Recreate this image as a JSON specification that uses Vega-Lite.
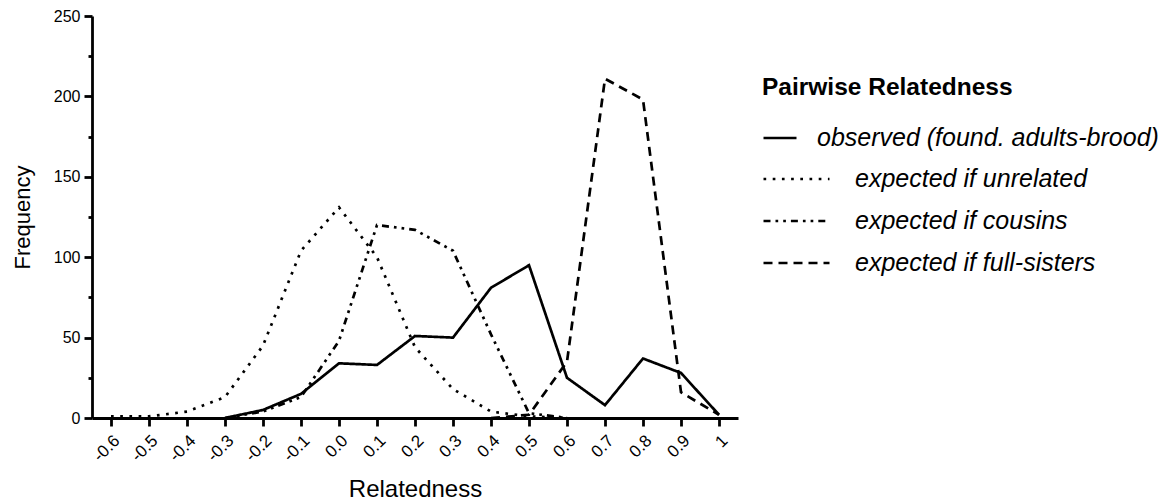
{
  "$schema": "https://vega.github.io/schema/vega-lite/v6.json",
  "width": 646,
  "height": 402,
  "autosize": {"type": "none"},
  "padding": {"left": 92, "top": 16, "right": 433, "bottom": 86},
  "background": "white",
  "config": {
    "view": {"stroke": null},
    "font": "Liberation Sans",
    "axis": {
      "domainColor": "black", "domainWidth": 2.8, "tickColor": "black", "tickWidth": 2.8,
      "labelColor": "black", "titleColor": "black", "grid": false,
      "labelFont": "Liberation Sans", "titleFont": "Liberation Sans", "titleFontWeight": "normal"
    }
  },
  "data": {
    "values": [
      {"series": "observed (found. adults-brood)", "group": "obs", "r": -0.3, "freq": 0},
      {"series": "observed (found. adults-brood)", "group": "obs", "r": -0.2, "freq": 5},
      {"series": "observed (found. adults-brood)", "group": "obs", "r": -0.1, "freq": 15},
      {"series": "observed (found. adults-brood)", "group": "obs", "r": 0.0, "freq": 34},
      {"series": "observed (found. adults-brood)", "group": "obs", "r": 0.1, "freq": 33},
      {"series": "observed (found. adults-brood)", "group": "obs", "r": 0.2, "freq": 51},
      {"series": "observed (found. adults-brood)", "group": "obs", "r": 0.3, "freq": 50},
      {"series": "observed (found. adults-brood)", "group": "obs", "r": 0.4, "freq": 81},
      {"series": "observed (found. adults-brood)", "group": "obs", "r": 0.5, "freq": 95},
      {"series": "observed (found. adults-brood)", "group": "obs", "r": 0.6, "freq": 25},
      {"series": "observed (found. adults-brood)", "group": "obs", "r": 0.7, "freq": 8},
      {"series": "observed (found. adults-brood)", "group": "obs", "r": 0.8, "freq": 37},
      {"series": "observed (found. adults-brood)", "group": "obs", "r": 0.9, "freq": 28},
      {"series": "observed (found. adults-brood)", "group": "obs", "r": 1.0, "freq": 2},
      {"series": "expected if unrelated", "group": "exp", "r": -0.6, "freq": 1},
      {"series": "expected if unrelated", "group": "exp", "r": -0.5, "freq": 1},
      {"series": "expected if unrelated", "group": "exp", "r": -0.4, "freq": 4},
      {"series": "expected if unrelated", "group": "exp", "r": -0.3, "freq": 13},
      {"series": "expected if unrelated", "group": "exp", "r": -0.2, "freq": 45},
      {"series": "expected if unrelated", "group": "exp", "r": -0.1, "freq": 104},
      {"series": "expected if unrelated", "group": "exp", "r": 0.0, "freq": 131},
      {"series": "expected if unrelated", "group": "exp", "r": 0.1, "freq": 100},
      {"series": "expected if unrelated", "group": "exp", "r": 0.2, "freq": 44},
      {"series": "expected if unrelated", "group": "exp", "r": 0.3, "freq": 18},
      {"series": "expected if unrelated", "group": "exp", "r": 0.4, "freq": 4},
      {"series": "expected if unrelated", "group": "exp", "r": 0.5, "freq": 1},
      {"series": "expected if unrelated", "group": "exp", "r": 0.6, "freq": 0},
      {"series": "expected if cousins", "group": "exp", "r": -0.3, "freq": 0},
      {"series": "expected if cousins", "group": "exp", "r": -0.2, "freq": 4},
      {"series": "expected if cousins", "group": "exp", "r": -0.1, "freq": 13},
      {"series": "expected if cousins", "group": "exp", "r": 0.0, "freq": 48},
      {"series": "expected if cousins", "group": "exp", "r": 0.1, "freq": 120},
      {"series": "expected if cousins", "group": "exp", "r": 0.2, "freq": 117},
      {"series": "expected if cousins", "group": "exp", "r": 0.3, "freq": 104},
      {"series": "expected if cousins", "group": "exp", "r": 0.4, "freq": 52},
      {"series": "expected if cousins", "group": "exp", "r": 0.5, "freq": 3},
      {"series": "expected if cousins", "group": "exp", "r": 0.6, "freq": 0},
      {"series": "expected if full-sisters", "group": "exp", "r": 0.4, "freq": 0},
      {"series": "expected if full-sisters", "group": "exp", "r": 0.5, "freq": 2},
      {"series": "expected if full-sisters", "group": "exp", "r": 0.6, "freq": 35},
      {"series": "expected if full-sisters", "group": "exp", "r": 0.7, "freq": 211},
      {"series": "expected if full-sisters", "group": "exp", "r": 0.8, "freq": 198},
      {"series": "expected if full-sisters", "group": "exp", "r": 0.9, "freq": 16},
      {"series": "expected if full-sisters", "group": "exp", "r": 1.0, "freq": 2}
    ]
  },
  "layer": [
    {
      "transform": [{"filter": "datum.group == 'obs'"}],
      "mark": {"type": "line", "color": "black", "strokeWidth": 2.7},
      "encoding": {
        "x": {
          "field": "r", "type": "quantitative", "title": "Relatedness",
          "scale": {"domain": [-0.65, 1.05], "nice": false, "zero": false},
          "axis": {
            "values": [-0.6, -0.5, -0.4, -0.3, -0.2, -0.1, 0, 0.1, 0.2, 0.3, 0.4, 0.5, 0.6, 0.7, 0.8, 0.9, 1],
            "labelExpr": "datum.value == 1 ? '1' : replace(format(datum.value, '.1f'), '\u2212', '-')",
            "labelAngle": -45, "labelFontSize": 17, "tickSize": 8, "labelPadding": 6,
            "titleFontSize": 24, "titlePadding": 13, "labelFlush": false, "labelOverlap": false
          }
        },
        "y": {
          "field": "freq", "type": "quantitative", "title": "Frequency",
          "scale": {"domain": [0, 250], "nice": false},
          "axis": {
            "values": [0, 50, 100, 150, 200, 250], "orient": "left",
            "labelFontSize": 16, "tickSize": 8, "labelPadding": 4,
            "titleFontSize": 22, "titlePadding": 19
          }
        },
        "strokeDash": {
          "field": "series", "type": "nominal",
          "scale": {"domain": ["observed (found. adults-brood)"], "range": [[1, 0]]},
          "legend": {
            "orient": "none", "legendX": 670, "legendY": 60, "padding": 0,
            "title": "Pairwise Relatedness", "titleFontSize": 24.5, "titleFontWeight": "bold",
            "titleColor": "black", "titlePadding": 25, "titleLimit": 500,
            "symbolType": "stroke", "symbolSize": 1089, "symbolStrokeWidth": 2.7, "symbolStrokeColor": "black",
            "labelFontSize": 25, "labelFontStyle": "italic", "labelColor": "black", "labelOffset": 19,
            "labelLimit": 500, "clipHeight": 25
          }
        }
      }
    },
    {
      "transform": [{"filter": "datum.group == 'exp'"}],
      "mark": {"type": "line", "color": "black", "strokeWidth": 2.7},
      "encoding": {
        "x": {"field": "r", "type": "quantitative", "title": "Relatedness"},
        "y": {
          "field": "freq", "type": "quantitative",
          "axis": {
            "values": [25, 75, 125, 175, 225], "orient": "left", "labels": false,
            "domain": false, "tickSize": 4, "title": null
          }
        },
        "strokeDash": {
          "field": "series", "type": "nominal",
          "scale": {
            "domain": ["expected if unrelated", "expected if cousins", "expected if full-sisters"],
            "range": [[2.7, 6.5], [7, 5, 2.7, 5, 2.7, 5], [9, 6]]
          },
          "legend": {
            "orient": "none", "legendX": 670, "legendY": 150.5, "padding": 0, "title": null,
            "symbolType": "stroke", "symbolSize": 4356, "symbolStrokeWidth": 2.5, "symbolStrokeColor": "black",
            "labelFontSize": 25, "labelFontStyle": "italic", "labelColor": "black", "labelOffset": 24,
            "labelLimit": 500, "clipHeight": 25, "rowPadding": 16
          }
        }
      }
    }
  ],
  "resolve": {"scale": {"strokeDash": "independent"}, "axis": {"y": "independent"}}
}
